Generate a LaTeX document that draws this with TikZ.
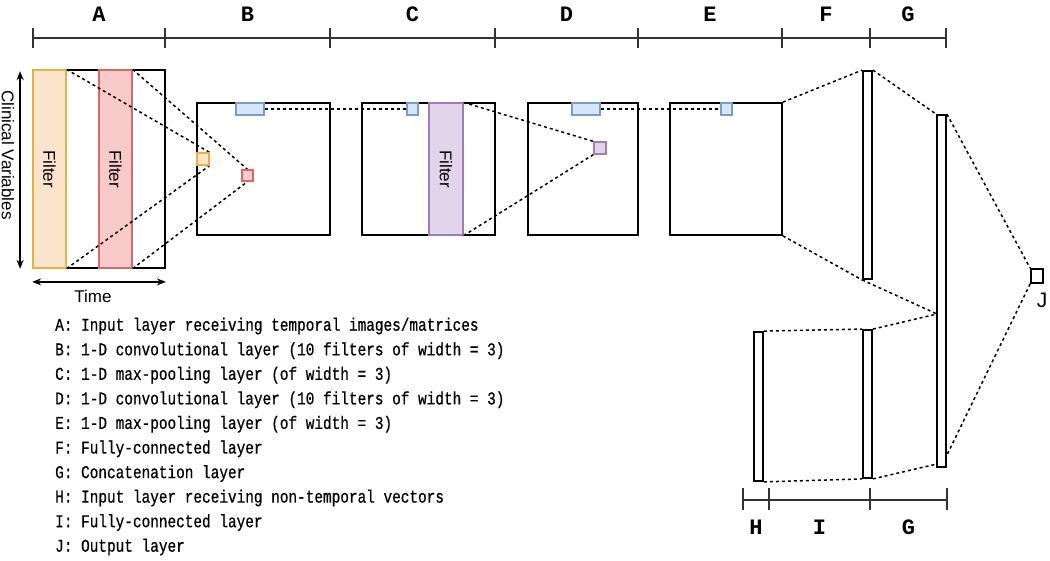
\documentclass[tikz,border=0pt]{standalone}
\usepackage{fontspec}
\setmainfont{Liberation Sans}
\newfontfamily\monof[FakeStretch=0.8,FakeBold=0.6]{Liberation Mono}
\newfontfamily\monob{Liberation Mono}
\usetikzlibrary{arrows.meta}
\definecolor{orfill}{HTML}{FCE3CC}
\definecolor{ordraw}{HTML}{E6B33D}
\definecolor{rdfill}{HTML}{F8C9C9}
\definecolor{rddraw}{HTML}{D36B6B}
\definecolor{blfill}{HTML}{D5E6F8}
\definecolor{bldraw}{HTML}{7A9CC2}
\definecolor{pufill}{HTML}{E2D4EA}
\definecolor{pudraw}{HTML}{A07DB5}
\definecolor{rulecol}{HTML}{333333}
\tikzset{
  layerbox/.style={draw=black, line width=1.8pt, inner sep=0pt, fill=white},
  colbox/.style 2 args={draw=#1, fill=#2, line width=1.2pt, inner sep=0pt},
  conn/.style={draw=black, line width=1.5pt, dash pattern=on 3pt off 3pt},
  ruler/.style={draw=rulecol, line width=1.5pt},
  rulelab/.style={font=\monob\bfseries\fontsize{22}{22}\selectfont, inner sep=0pt},
  sanslab/.style={font=\fontsize{17}{17}\selectfont, inner sep=0pt},
  leg/.style={font=\monof\fontsize{18}{18}\selectfont, anchor=base west, inner sep=0pt},
  dbl/.style={line width=1.5pt, {Stealth[length=9pt,width=7pt]}-{Stealth[length=9pt,width=7pt]}},
}
\begin{document}
\begin{tikzpicture}[x=1pt,y=-1pt]
\useasboundingbox[fill=white] (0,0) rectangle (1050,560);

% ---- top ruler
\draw[ruler] (33,38) -- (946,38);
\foreach \t in {33,165,330,495,638,782,870,946}{\draw[ruler] (\t,28) -- (\t,48);}
\node[rulelab] (lA) at (99,14) {A};
\node[rulelab] (lB) at (247.5,14) {B};
\node[rulelab] (lC) at (412.5,14) {C};
\node[rulelab] (lD) at (566.5,14) {D};
\node[rulelab] (lE) at (710,14) {E};
\node[rulelab] (lF) at (826,14) {F};
\node[rulelab] (lG) at (908,14) {G};

% ---- layer A
\node[layerbox, minimum width=132pt, minimum height=198pt] (inA) at (99,169) {};
\node[colbox={ordraw}{orfill}, minimum width=33pt, minimum height=198pt] (filtO) at (49.5,169) {};
\node[sanslab, rotate=-90] (tO) at (49.5,169) {Filter};
\node[colbox={rddraw}{rdfill}, minimum width=33pt, minimum height=198pt] (filtR) at (115.5,169) {};
\node[sanslab, rotate=-90] (tR) at (115.5,169) {Filter};
\draw[dbl] ([xshift=-12pt,yshift=-2pt]inA.north west) -- ([xshift=-12pt]inA.south west);
\node[sanslab, rotate=-90] (cv) at (8,155) {Clinical Variables};
\draw[dbl] ([yshift=-13pt]inA.south west) -- ([yshift=-13pt]inA.south east);
\node[sanslab] (time) at (93,296) {Time};

% ---- layer B
\node[layerbox, minimum width=133pt, minimum height=132pt] (B) at (263.5,169) {};
\node[colbox={bldraw}{blfill}, minimum width=28pt, minimum height=12pt] (Bblue) at (250,109) {};
\node[colbox={ordraw}{orfill}, minimum width=12pt, minimum height=12pt] (yel) at (203,159) {};
\node[colbox={rddraw}{rdfill}, minimum width=11pt, minimum height=11pt] (red) at (247.5,175.5) {};

% ---- layer C
\node[layerbox, minimum width=133pt, minimum height=132pt] (C) at (428.5,169) {};
\node[colbox={bldraw}{blfill}, minimum width=11pt, minimum height=12pt] (Cblue) at (412.5,109) {};
\node[colbox={pudraw}{pufill}, minimum width=34pt, minimum height=132pt] (filtP) at (446,169) {};
\node[sanslab, rotate=-90] (tP) at (446,169) {Filter};

% ---- layer D
\node[layerbox, minimum width=110pt, minimum height=132pt] (D) at (583,169) {};
\node[colbox={bldraw}{blfill}, minimum width=28pt, minimum height=12pt] (Dblue) at (586,109) {};
\node[colbox={pudraw}{pufill}, minimum width=12pt, minimum height=12pt] (pur) at (600,148) {};

% ---- layer E
\node[layerbox, minimum width=112pt, minimum height=132pt] (E) at (726,169) {};
\node[colbox={bldraw}{blfill}, minimum width=11pt, minimum height=12pt] (Eblue) at (726.5,109) {};

% ---- F, G, J, H, I
\node[layerbox, minimum width=9pt, minimum height=208pt] (F) at (867.5,175) {};
\node[layerbox, minimum width=9pt, minimum height=352pt] (G) at (941.5,291) {};
\node[layerbox, minimum width=12pt, minimum height=14pt] (J) at (1037,276) {};
\node[font=\fontsize{21}{21}\selectfont, inner sep=0pt] (lJ) at (1042,300) {J};
\node[layerbox, minimum width=9pt, minimum height=149pt] (H) at (758.5,406.5) {};
\node[layerbox, minimum width=9pt, minimum height=148pt] (I) at (867.5,404) {};
\coordinate (gin) at (937,314);
\coordinate (gin2) at (937,464);
\coordinate (gout) at (946,457);

% ---- connectors
\draw[conn] (filtO.north east) -- (yel.north east);
\draw[conn] (filtO.south east) -- (yel.south east);
\draw[conn] (filtR.north east) -- (red.north);
\draw[conn] (filtR.south east) -- (red.south);
\draw[conn] (Bblue.east) -- (Cblue.west);
\draw[conn] (filtP.north east) -- (pur.north west);
\draw[conn] (filtP.south east) -- (pur.south west);
\draw[conn] (Dblue.east) -- (Eblue.west);
\draw[conn] (E.north east) -- (F.north west);
\draw[conn] (E.south east) -- (F.south west);
\draw[conn] (F.north east) -- (G.north west);
\draw[conn] (F.south west) -- (gin);
\draw[conn] (I.north east) -- (gin);
\draw[conn] (I.south east) -- (gin2);
\draw[conn] (H.north east) -- (I.north west);
\draw[conn] (H.south east) -- (I.south west);
\draw[conn] (G.north east) -- (J.north west);
\draw[conn] (J.south west) -- (gout);

% redraw small boxes on top of connectors
\node[colbox={ordraw}{orfill}, minimum width=12pt, minimum height=12pt] at (yel) {};
\node[colbox={rddraw}{rdfill}, minimum width=11pt, minimum height=11pt] at (red) {};
\node[colbox={pudraw}{pufill}, minimum width=12pt, minimum height=12pt] at (pur) {};

% ---- bottom ruler
\draw[ruler] (743,500) -- (947,500);
\foreach \t in {743,769,870,947}{\draw[ruler] (\t,488) -- (\t,510);}
\node[rulelab] (lH) at (756,527) {H};
\node[rulelab] (lI) at (819.5,527) {I};
\node[rulelab] (lG2) at (908.5,527) {G};

% ---- legend
\node[leg] (g1) at (55,330.7) {A: Input layer receiving temporal images/matrices};
\node[leg] (g2) at (55,355.3) {B: 1-D convolutional layer (10 filters of width = 3)};
\node[leg] (g3) at (55,379.8) {C: 1-D max-pooling layer (of width = 3)};
\node[leg] (g4) at (55,404.4) {D: 1-D convolutional layer (10 filters of width = 3)};
\node[leg] (g5) at (55,428.9) {E: 1-D max-pooling layer (of width = 3)};
\node[leg] (g6) at (55,453.5) {F: Fully-connected layer};
\node[leg] (g7) at (55,478.1) {G: Concatenation layer};
\node[leg] (g8) at (55,502.6) {H: Input layer receiving non-temporal vectors};
\node[leg] (g9) at (55,527.2) {I: Fully-connected layer};
\node[leg] (g10) at (55,551.7) {J: Output layer};
\end{tikzpicture}
\end{document}
